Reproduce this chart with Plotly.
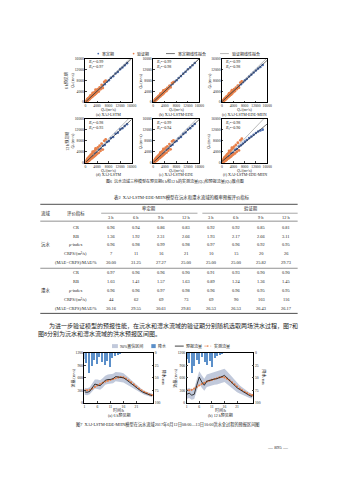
import numpy as np
import plotly.graph_objects as go

W, H = 339, 480
FONT = "Liberation Serif, DejaVu Serif, Noto Sans CJK SC"

def fx(x):
    return x / W

def fy(y):
    return 1 - y / H

# ---------------- data: Fig.6 scatter ----------------
# observed discharge (shared by the three models)
qo_cal = [600, 1200, 1800, 2500, 3200, 3900, 4600, 5300, 6000, 6700, 7400, 8100,
          8800, 9600, 10400, 11200, 12000, 12800, 13600, 14400]
qo_val = [100, 200, 300, 400, 500, 600, 700, 800, 900, 1000, 1100, 1200, 1300, 1400,
          1500, 1600, 1800, 2000, 2200, 2400, 2600, 2800, 3000, 3200, 3400, 3600, 3800,
          4000, 4300, 4600, 4900, 5200, 5600, 6000, 6500, 7000, 2500, 1700, 3500, 800]

qs_cal_a = [700, 1100, 1900, 2400, 3300, 3800, 4700, 5200, 6100, 6600, 7500, 8000, 8900, 9500, 10500, 11100, 12100, 12700, 13500, 14300]
qs_cal_b = [650, 1250, 1850, 2450, 3250, 3850, 4650, 5250, 6050, 6650, 7450, 8050, 8850, 9550, 10450, 11150, 12050, 12750, 13550, 14350]
qs_cal_c = [700, 1150, 1900, 2400, 3300, 3850, 4700, 5200, 6000, 6600, 7300, 8000, 8600, 9400, 10100, 10900, 11600, 12300, 12900, 13600]
qs_cal_d = [800, 1100, 2000, 2300, 3400, 3700, 4800, 5100, 6200, 6500, 7600, 7900, 9000, 9400, 10600, 11000, 12200, 12600, 13400, 14100]
qs_cal_e = [750, 1150, 1950, 2350, 3350, 3750, 4750, 5150, 6150, 6550, 7550, 7950, 8950, 9450, 10550, 11050, 12150, 12650, 13450, 14200]
qs_cal_f = [800, 1100, 2000, 2300, 3400, 3600, 4700, 5000, 5900, 6400, 7000, 7700, 8300, 9000, 9600, 10200, 10900, 11400, 11800, 12100]

qs_val_a = [300, 100, 600, 250, 800, 400, 1100, 600, 1300, 800, 1500, 1000, 1700, 1100, 1900, 1300, 2300, 1700, 2700, 2000, 3200, 2400, 3500, 2700, 3900, 3100, 4400, 3500, 4800, 3900, 5400, 4700, 6300, 5200, 7400, 7900, 3400, 2400, 4600, 1200]
qs_val_b = [250, 150, 500, 300, 700, 450, 1000, 650, 1200, 850, 1400, 1000, 1600, 1200, 1800, 1400, 2200, 1800, 2600, 2100, 3000, 2500, 3400, 2800, 3800, 3200, 4200, 3700, 4700, 4100, 5200, 4800, 6000, 5400, 7000, 7300, 3100, 1900, 4300, 1100]
qs_val_c = [280, 120, 550, 280, 750, 420, 1050, 620, 1250, 820, 1450, 980, 1650, 1150, 1850, 1350, 2250, 1750, 2650, 2050, 3100, 2450, 3450, 2750, 3850, 3150, 4300, 3650, 4750, 4050, 5300, 4750, 6100, 5300, 7200, 7600, 3200, 2100, 4400, 1150]
qs_val_d = [400, 50, 800, 150, 1000, 300, 1400, 450, 1600, 650, 1900, 800, 2100, 900, 2400, 1100, 2800, 1500, 3200, 1700, 3700, 2100, 4100, 2400, 4600, 2800, 5000, 3200, 5600, 3600, 6200, 4300, 7000, 4800, 8000, 8500, 4000, 2000, 5200, 1500]
qs_val_e = [350, 80, 750, 200, 950, 350, 1300, 500, 1500, 700, 1800, 850, 2000, 950, 2300, 1150, 2700, 1550, 3100, 1800, 3600, 2200, 4000, 2500, 4500, 2900, 4900, 3300, 5500, 3700, 6000, 4400, 6800, 4900, 7800, 8200, 3800, 2000, 5000, 1400]
qs_val_f = [450, 50, 850, 120, 1100, 250, 1500, 400, 1700, 600, 2000, 750, 2300, 850, 2600, 1000, 3000, 1400, 3400, 1600, 3900, 2000, 4300, 2300, 4800, 2700, 5300, 3000, 5900, 3400, 6500, 4000, 7300, 4500, 8200, 8800, 4300, 1800, 5500, 1800]

r2_cal = [0.99, 0.99, 0.99, 0.98, 0.99, 0.98]
r2_val = [0.97, 0.98, 0.98, 0.93, 0.94, 0.90]
panel_titles = ["(a) XAJ-LSTM", "(b) XAJ-LSTM-EDE", "(c) XAJ-LSTM-EDE-MHN",
                "(d) XAJ-LSTM", "(e) XAJ-LSTM-EDE", "(f) XAJ-LSTM-EDE-MHN"]
row_labels = ["6 h预见期", "12 h预见期"]
scatter_ticks = [0, 4000, 8000, 12000, 16000]

# ---------------- data: Table 2 ----------------
watersheds = ["沅水", "澧水"]
periods = ["率定期", "验证期"]
leads = ["3 h", "6 h", "9 h", "12 h"]
metrics = ["CR", "RB", "ρ-index", "CRPS/(m³/s)", "(MAE−CRPS)/MAE/%"]
yuan_cr = [0.96, 0.94, 0.86, 0.83, 0.92, 0.92, 0.85, 0.81]
yuan_rb = [1.36, 1.92, 2.31, 2.66, 1.93, 2.17, 2.66, 3.11]
yuan_p = [0.96, 0.98, 0.99, 0.98, 0.97, 0.96, 0.92, 0.95]
yuan_crps = [7, 11, 16, 21, 10, 15, 20, 26]
yuan_skill = [30.00, 31.25, 27.27, 25.00, 25.00, 25.00, 25.82, 29.73]
li_cr = [0.97, 0.96, 0.96, 0.90, 0.91, 0.93, 0.90, 0.90]
li_rb = [1.03, 1.41, 1.57, 1.63, 0.89, 1.24, 1.36, 1.45]
li_p = [0.96, 0.96, 0.97, 0.98, 0.96, 0.96, 0.95, 0.95]
li_crps = [44, 62, 69, 73, 69, 90, 103, 116]
li_skill = [30.16, 29.55, 30.61, 29.81, 26.53, 26.53, 26.43, 26.17]

# ---------------- data: Fig.7 ----------------
hours = list(range(1, 28))
rain = [12, 20, 40, 26, 14, 22, 8, 18, 24, 16, 28, 10, 6, 4, 2, 0, 0, 0, 0, 0, 0, 0, 0, 0, 0, 0, 0]
q_obs = [300, 300, 310, 340, 380, 420, 450, 480, 510, 530, 550, 570, 590, 610, 620, 610, 580,
         540, 490, 440, 390, 340, 300, 260, 230, 200, 180]
q_pred6 = [260, 250, 270, 350, 450, 430, 410, 470, 540, 560, 560, 580, 630, 620, 610, 600, 560,
           510, 460, 410, 360, 310, 270, 240, 210, 190, 170]
q_up6 = [360, 350, 370, 460, 560, 560, 540, 590, 650, 680, 690, 700, 740, 740, 730, 710, 670,
         610, 550, 490, 430, 370, 330, 290, 260, 240, 220]
q_lo6 = [190, 180, 200, 260, 340, 330, 310, 360, 430, 450, 460, 470, 520, 510, 500, 490, 450,
         410, 370, 330, 290, 250, 220, 190, 170, 150, 130]
q_pred12 = [200, 230, 180, 200, 420, 620, 500, 420, 520, 540, 550, 570, 580, 600, 630, 660, 600,
            540, 470, 410, 360, 320, 280, 240, 200, 170, 150]
q_up12 = [330, 360, 320, 350, 560, 760, 660, 580, 680, 700, 720, 740, 760, 780, 810, 820, 760,
          690, 610, 540, 480, 420, 370, 320, 270, 240, 210]
q_lo12 = [90, 110, 70, 90, 280, 460, 360, 290, 380, 400, 410, 430, 440, 460, 480, 500, 450,
          400, 340, 290, 250, 220, 190, 160, 130, 110, 100]
flow_ticks = [0, 300, 600, 900, 1200]
rain_ticks = [0, 25, 50, 75, 100]
hour_ticks = [1, 6, 11, 16, 21]

BLUE = "#4D6FB3"
ORANGE = "#E8804A"
BAR = "#5B8FC9"
BAND = "rgba(160,172,200,0.65)"

S_TICK = 3.7
S_SMALL = 4.0
S_TAB = 4.4

fig = go.Figure()
annotations = []
shapes = []
layout = dict(width=W, height=H, margin=dict(l=0, r=0, t=0, b=0),
              paper_bgcolor="white", plot_bgcolor="white", showlegend=False,
              font=dict(family=FONT, size=S_SMALL, color="#222"))


def ann(x, y, text, size=S_SMALL, xanchor="center", yanchor="middle", angle=0, color="#222"):
    annotations.append(dict(x=fx(x), y=fy(y), xref="paper", yref="paper", text=text,
                            showarrow=False, xanchor=xanchor, yanchor=yanchor,
                            textangle=angle, borderpad=0,
                            font=dict(size=size, family=FONT, color=color)))


def hline(x0, x1, y, w=0.5, color="#222", dash="solid"):
    shapes.append(dict(type="line", xref="paper", yref="paper", x0=fx(x0), x1=fx(x1),
                       y0=fy(y), y1=fy(y), line=dict(width=w, color=color, dash=dash)))


def dot(cx, cy, r, color):
    shapes.append(dict(type="circle", xref="paper", yref="paper", x0=fx(cx - r), x1=fx(cx + r),
                       y0=fy(cy + r), y1=fy(cy - r), fillcolor=color, line=dict(width=0)))


tickfont = dict(size=S_TICK, family=FONT, color="#222")
axis_base = dict(showline=True, linecolor="black", linewidth=0.6, ticks="inside", ticklen=1.5,
                 tickwidth=0.5, showgrid=False, zeroline=False, tickfont=tickfont, tickangle=0)

# ---------------- Fig.6 ----------------
panels = [(86, 133, 57, 101), (155, 202, 57, 101), (225, 271, 57, 101),
          (86, 133, 118, 162), (155, 202, 118, 162), (225, 271, 118, 162)]
qs_cal_all = [qs_cal_a, qs_cal_b, qs_cal_c, qs_cal_d, qs_cal_e, qs_cal_f]
qs_val_all = [qs_val_a, qs_val_b, qs_val_c, qs_val_d, qs_val_e, qs_val_f]

for i, (l, r, t, b) in enumerate(panels):
    k = i + 1
    xn = "xaxis" if k == 1 else f"xaxis{k}"
    yn = "yaxis" if k == 1 else f"yaxis{k}"
    xr = "x" if k == 1 else f"x{k}"
    yr = "y" if k == 1 else f"y{k}"
    common = dict(axis_base, mirror=True, range=[0, 16000], tickvals=scatter_ticks,
                  tickformat="d")
    layout[xn] = dict(domain=[fx(l), fx(r)], anchor=yr, **common)
    layout[yn] = dict(domain=[fy(b), fy(t)], anchor=xr, **common)

    cal_y = qs_cal_all[i]
    val_y = qs_val_all[i]
    fig.add_trace(go.Scatter(x=qo_cal, y=cal_y, mode="markers", xaxis=xr, yaxis=yr,
                             marker=dict(size=2.6, color=BLUE, line=dict(width=0))))
    fig.add_trace(go.Scatter(x=qo_val, y=val_y, mode="markers", xaxis=xr, yaxis=yr,
                             marker=dict(size=2.8, color=ORANGE, line=dict(width=0))))
    kc, bc = np.polyfit(qo_cal, cal_y, 1)
    kv, bv = np.polyfit(qo_val, val_y, 1)
    xs = np.array([0, 16000])
    fig.add_trace(go.Scatter(x=xs, y=kv * xs + bv, mode="lines", xaxis=xr, yaxis=yr,
                             line=dict(color="#8a8a8a", width=0.6)))
    fig.add_trace(go.Scatter(x=xs, y=kc * xs + bc, mode="lines", xaxis=xr, yaxis=yr,
                             line=dict(color="#1a1a1a", width=0.6)))

    ann(l + 2, t + 3.5, f"<i>R</i>₁²={r2_cal[i]:.2f}", xanchor="left")
    ann(l + 2, t + 8.5, f"<i>R</i>₂²={r2_val[i]:.2f}", xanchor="left")
    ann(l - 13, (t + b) / 2, "<i>Q</i>ₛ/(m³/s)", angle=-90)
    if i % 3 == 0:
        ann(l - 19, (t + b) / 2, row_labels[i // 3], angle=-90)
    ann((l + r) / 2, b + 7.5, "<i>Q</i>ₒ/(m³/s)")
    ann((l + r) / 2, b + 12, panel_titles[i])

# Fig.6 legend
dot(99, 52, 0.9, BLUE)
ann(101.5, 52, periods[0], xanchor="left")
dot(135, 52, 0.9, ORANGE)
ann(137.5, 52, periods[1], xanchor="left")
hline(168, 177, 52, w=0.6, color="#1a1a1a")
ann(179, 52, "率定期线性拟合", xanchor="left")
hline(223, 232, 52, w=0.6, color="#8a8a8a")
ann(234, 52, "验证期线性拟合", xanchor="left")

ann(177, 181, "图6  沅水流域三种模型在预见期6 h和12 h的实测流量(<i>Q</i>ₒ)和预报流量(<i>Q</i>ₛ)散点图")

# ---------------- Table 2 ----------------
ann(184, 197, "表2  XAJ-LSTM-EDE-MHN模型在沅水和澧水流域的概率预报评价指标", size=S_TAB)
TL, TR = 40, 302
hline(TL, TR, 204, w=0.8)
hline(102, 200, 213, w=0.4)
hline(205, TR, 213, w=0.4)
hline(TL, TR, 221, w=0.5)
hline(TL, TR, 268.5, w=0.5)
hline(TL, TR, 314, w=0.8)
ann(45, 213, "流域", size=S_TAB)
ann(76, 213, "评价指标", size=S_TAB)
ann(151, 208.5, periods[0], size=S_TAB)
ann(254, 208.5, periods[1], size=S_TAB)
col_x = [112 + 25.5 * j for j in range(8)]
for j in range(8):
    ann(col_x[j], 217.5, leads[j % 4], size=S_TAB)

groups = [
    (watersheds[0], [yuan_cr, yuan_rb, yuan_p, yuan_crps, yuan_skill], 227),
    (watersheds[1], [li_cr, li_rb, li_p, li_crps, li_skill], 273),
]
fmts = ["{:.2f}", "{:.2f}", "{:.2f}", "{:d}", "{:.2f}"]
for name, rows, y0 in groups:
    ann(45, y0 + 18, name, size=S_TAB)
    for m, row in enumerate(rows):
        yy = y0 + 9 * m
        ann(76, yy, metrics[m], size=S_TAB)
        for j, v in enumerate(row):
            ann(col_x[j], yy, fmts[m].format(v), size=S_TAB)

# ---------------- body text ----------------
ann(48, 327, "为进一步验证模型的预报性能，在沅水和澧水流域的验证期分别随机选取两场洪水过程，图7和",
    size=6.0, xanchor="left")
ann(37, 335, "图8分别为沅水和澧水流域的洪水预报区间图。", size=6.0, xanchor="left")

# ---------------- Fig.7 ----------------
lower = [(85, 155, 354, 404), (189, 257, 354, 404)]
preds = [q_pred6, q_pred12]
ups = [q_up6, q_up12]
los = [q_lo6, q_lo12]
sub7 = ["(a) 6 h预见期", "(b) 12 h预见期"]
for i, (l, r, t, b) in enumerate(lower):
    k = 7 + i
    kr = 9 + i
    xr, yr, yr2 = f"x{k}", f"y{k}", f"y{kr}"
    layout[f"xaxis{k}"] = dict(axis_base, domain=[fx(l), fx(r)], anchor=yr, range=[1, 27.5],
                               tickvals=hour_ticks, mirror=True)
    layout[f"yaxis{k}"] = dict(axis_base, domain=[fy(b), fy(t)], anchor=xr, range=[0, 1200],
                               tickvals=flow_ticks, tickformat="d")
    layout[f"yaxis{kr}"] = dict(axis_base, overlaying=yr, anchor=xr, side="right",
                                range=[100, 0], tickvals=rain_ticks)
    fig.add_trace(go.Scatter(x=hours, y=los[i], mode="lines", xaxis=xr, yaxis=yr,
                             line=dict(width=0, color=BAND)))
    fig.add_trace(go.Scatter(x=hours, y=ups[i], mode="lines", xaxis=xr, yaxis=yr,
                             fill="tonexty", fillcolor=BAND, line=dict(width=0, color=BAND)))
    fig.add_trace(go.Scatter(x=hours, y=q_obs, mode="lines+markers", xaxis=xr, yaxis=yr,
                             line=dict(color=ORANGE, width=0.6, dash="dot"),
                             marker=dict(size=2.2, color=ORANGE)))
    fig.add_trace(go.Scatter(x=hours, y=preds[i], mode="lines", xaxis=xr, yaxis=yr,
                             line=dict(color="#111", width=0.8)))
    fig.add_trace(go.Bar(x=hours, y=rain, xaxis=xr, yaxis=yr2, width=0.5,
                         marker=dict(color=BAR, line=dict(width=0))))
    ann(l - 12, (t + b) / 2, "流量/(m³/s)", angle=-90)
    ann(r + 11, (t + b) / 2, "降水/mm", angle=90)
    ann((l + r) / 2, 411, "时间/h")
    ann((l + r) / 2, 416, sub7[i])

# Fig.7 legend
shapes.append(dict(type="rect", xref="paper", yref="paper", x0=fx(113), x1=fx(119),
                   y0=fy(349), y1=fy(345), fillcolor=BAND, line=dict(width=0)))
ann(120.5, 347, "90%置信区间", xanchor="left")
shapes.append(dict(type="rect", xref="paper", yref="paper", x0=fx(153), x1=fx(157.5),
                   y0=fy(349), y1=fy(345), fillcolor=BAR, line=dict(width=0)))
ann(159, 347, "降水", xanchor="left")
hline(177, 186, 347, w=0.8, color="#111")
ann(187.5, 347, "预报流量", xanchor="left")
hline(207, 214, 347, w=0.6, color=ORANGE, dash="dot")
dot(210.5, 347, 0.8, ORANGE)
ann(215.5, 347, "实测流量", xanchor="left")

ann(170, 426, "图7  XAJ-LSTM-EDE-MHN模型在沅水流域2017年6月12日08:00—13日10:00洪水全过程的预报区间图",
    size=4.2)

ann(282, 449, "— 895 —", size=5)

layout["annotations"] = annotations
layout["shapes"] = shapes
layout["bargap"] = 0
fig.update_layout(**layout)
fig.write_html("out.html")
